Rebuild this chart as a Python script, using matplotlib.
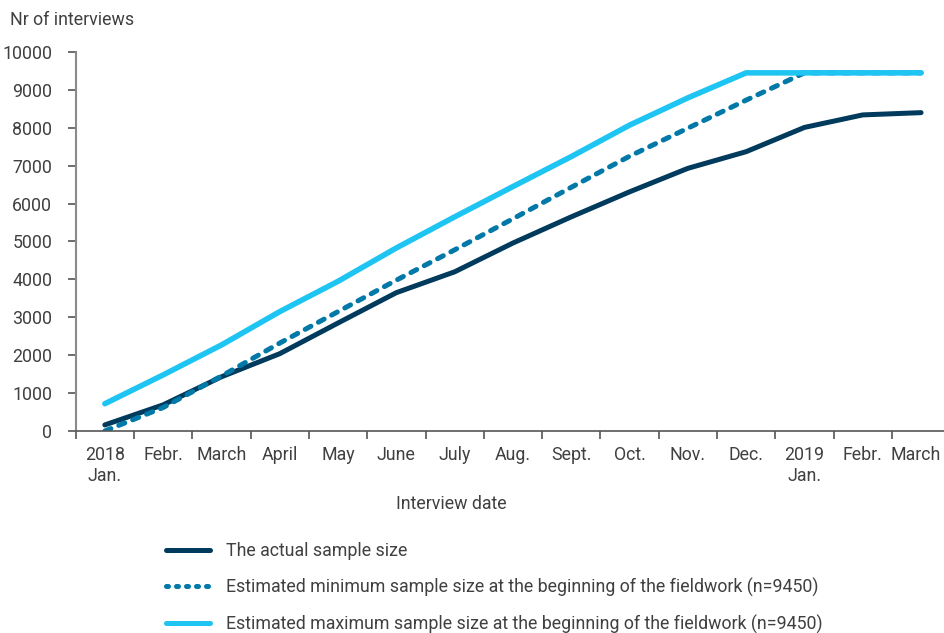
import numpy as np
import matplotlib
matplotlib.use("Agg")
import matplotlib.pyplot as plt
import matplotlib.transforms as mtransforms
from matplotlib.lines import Line2D

plt.rcParams["font.family"] = ["Roboto", "DejaVu Sans"]

# ── data ──
months = ["2018\nJan.", "Febr.", "March", "April", "May", "June", "July", "Aug.",
          "Sept.", "Oct.", "Nov.", "Dec.", "2019\nJan.", "Febr.", "March"]
actual = [160, 690, 1430, 2040, 2850, 3650, 4200, 4960, 5650, 6310, 6930, 7370, 8010, 8340, 8400]
est_min = [0, 620, 1450, 2320, 3150, 3980, 4780, 5600, 6430, 7250, 7990, 8730, 9450, 9450, 9450]
est_max = [720, 1480, 2270, 3150, 3950, 4830, 5650, 6450, 7240, 8070, 8790, 9450, 9450, 9450, 9450]
yticks = list(range(0, 10001, 1000))

labels = ["The actual sample size",
          "Estimated minimum sample size at the beginning of the fieldwork (n=9450)",
          "Estimated maximum sample size at the beginning of the fieldwork (n=9450)"]
c_act, c_min, c_max = "#003a5c", "#0079a8", "#1ec4f2"
txt = "#404040"
FS = 12.8

fig = plt.figure(figsize=(9.44, 6.33), dpi=100)
ax = fig.add_axes([75.7 / 944, 202 / 633, 874.5 / 944, 379 / 633])

x = np.arange(len(months))
lw = 3.6
ax.plot(x, actual, color=c_act, lw=lw, solid_capstyle="round", solid_joinstyle="round")
ax.plot(x, est_min, color=c_min, lw=lw, linestyle=(0, (1.3, 1.7)),
        dash_capstyle="round")
ax.plot(x, est_max, color=c_max, lw=lw + 0.4, solid_capstyle="round", solid_joinstyle="round")

ax.set_xlim(-0.5, len(months) - 0.5)
ax.set_ylim(0, 10000)
ax.set_yticks(yticks)
ax.set_yticklabels([str(v) for v in yticks])

# ticks at category boundaries, labels at centres
ax.set_xticks(np.arange(len(months) + 1) - 0.5)
ax.set_xticklabels([])
ax.set_xticks(x, minor=True)
ax.set_xticklabels(months, minor=True)
ax.tick_params(axis="x", which="major", length=6, width=1.2, color="#555555")
ax.tick_params(axis="x", which="minor", length=0, pad=11, labelsize=FS, labelcolor=txt)
ax.tick_params(axis="y", length=6, width=1.2, color="#555555", pad=11,
               labelsize=FS, labelcolor=txt)
# nudge the last month label a few pixels left so it stays on the canvas
last = ax.get_xticklabels(minor=True)[-1]
last.set_transform(last.get_transform() +
                   mtransforms.ScaledTranslation(-5 / 100, 0, fig.dpi_scale_trans))

for s in ["top", "right"]:
    ax.spines[s].set_visible(False)
ax.spines["left"].set_color("#8a8a8a")
ax.spines["left"].set_linewidth(1.5)
ax.spines["bottom"].set_color("#555555")
ax.spines["bottom"].set_linewidth(1.2)

fig.text(10 / 944, 1 - 20 / 633, "Nr of interviews", fontsize=FS, color=txt,
         ha="left", va="center")
fig.text(451 / 944, 1 - 504 / 633, "Interview date", fontsize=FS, color=txt,
         ha="center", va="center")

handles = [
    Line2D([], [], color=c_act, lw=lw, solid_capstyle="round"),
    Line2D([], [], color=c_min, lw=lw, linestyle=(0, (0.4, 1.6)), dash_capstyle="round"),
    Line2D([], [], color=c_max, lw=lw, solid_capstyle="round"),
]
fig.legend(handles, labels, loc="upper left", bbox_to_anchor=(150 / 944, 1 - 526 / 633),
           frameon=False, fontsize=FS, labelcolor=txt, handlelength=2.5,
           handletextpad=0.85, labelspacing=1.0)

fig.savefig("out.png", dpi=100)
